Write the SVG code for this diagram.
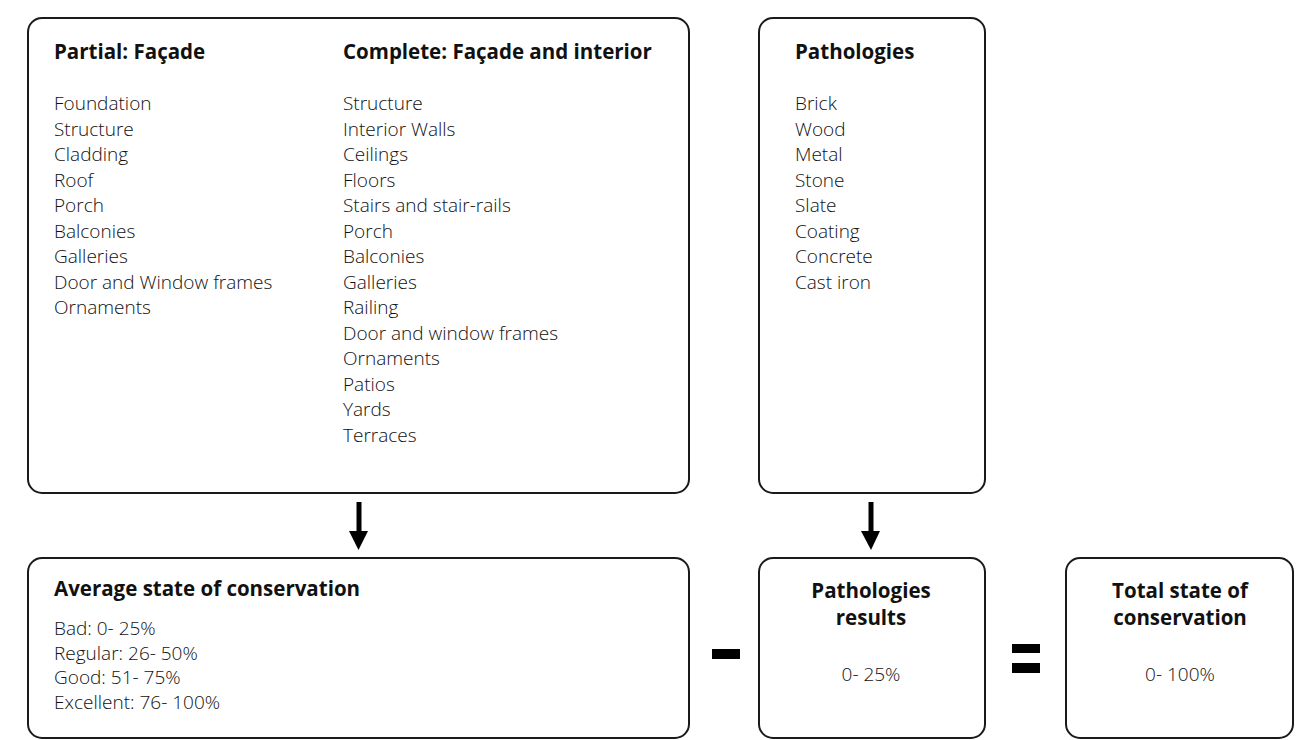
<svg xmlns="http://www.w3.org/2000/svg" width="1315" height="740" viewBox="0 0 1315 740">
<style>
.box{fill:#fff;stroke:#1a1a1a;stroke-width:2}
.h{font-family:"Open Sans","Liberation Sans",sans-serif;font-weight:bold;font-size:20.5px;fill:#111}
.t{font-family:"Open Sans","Liberation Sans",sans-serif;font-weight:300;font-size:19px;fill:#111}
.c{text-anchor:middle}
</style>
<rect width="1315" height="740" fill="#fff"/>
<g id="n-inspection">
<rect class="box" x="28" y="18" width="661" height="475" rx="14"/>
<text class="h" x="54" y="59">Partial: Façade</text>
<text class="t" x="54" y="110"><tspan x="54" dy="0">Foundation</tspan><tspan x="54" dy="25.5">Structure</tspan><tspan x="54" dy="25.5">Cladding</tspan><tspan x="54" dy="25.5">Roof</tspan><tspan x="54" dy="25.5">Porch</tspan><tspan x="54" dy="25.5">Balconies</tspan><tspan x="54" dy="25.5">Galleries</tspan><tspan x="54" dy="25.5">Door and Window frames</tspan><tspan x="54" dy="25.5">Ornaments</tspan></text>
<text class="h" x="343" y="59">Complete: Façade and interior</text>
<text class="t" x="343" y="110"><tspan x="343" dy="0">Structure</tspan><tspan x="343" dy="25.5">Interior Walls</tspan><tspan x="343" dy="25.5">Ceilings</tspan><tspan x="343" dy="25.5">Floors</tspan><tspan x="343" dy="25.5">Stairs and stair-rails</tspan><tspan x="343" dy="25.5">Porch</tspan><tspan x="343" dy="25.5">Balconies</tspan><tspan x="343" dy="25.5">Galleries</tspan><tspan x="343" dy="25.5">Railing</tspan><tspan x="343" dy="25.5">Door and window frames</tspan><tspan x="343" dy="25.5">Ornaments</tspan><tspan x="343" dy="25.5">Patios</tspan><tspan x="343" dy="25.5">Yards</tspan><tspan x="343" dy="25.5">Terraces</tspan></text>
</g>
<g id="n-pathologies">
<rect class="box" x="759" y="18" width="226" height="475" rx="14"/>
<text class="h" x="795" y="59">Pathologies</text>
<text class="t" x="795" y="110"><tspan x="795" dy="0">Brick</tspan><tspan x="795" dy="25.5">Wood</tspan><tspan x="795" dy="25.5">Metal</tspan><tspan x="795" dy="25.5">Stone</tspan><tspan x="795" dy="25.5">Slate</tspan><tspan x="795" dy="25.5">Coating</tspan><tspan x="795" dy="25.5">Concrete</tspan><tspan x="795" dy="25.5">Cast iron</tspan></text>
</g>
<g id="n-average">
<rect class="box" x="28" y="558" width="661" height="180" rx="14"/>
<text class="h" x="54" y="596">Average state of conservation</text>
<text class="t" x="54" y="635"><tspan x="54" dy="0">Bad: 0- 25%</tspan><tspan x="54" dy="24.5">Regular: 26- 50%</tspan><tspan x="54" dy="24.5">Good: 51- 75%</tspan><tspan x="54" dy="24.5">Excellent: 76- 100%</tspan></text>
</g>
<g id="n-results">
<rect class="box" x="759" y="558" width="226" height="180" rx="14"/>
<text class="h c" x="871" y="598">Pathologies</text>
<text class="h c" x="871" y="625">results</text>
<text class="t c" x="871" y="681">0- 25%</text>
</g>
<g id="n-total">
<rect class="box" x="1066" y="558" width="227" height="180" rx="14"/>
<text class="h c" x="1180" y="598">Total state of</text>
<text class="h c" x="1180" y="625">conservation</text>
<text class="t c" x="1180" y="681">0- 100%</text>
</g>
<g id="connectors" fill="#000">
<rect x="356.5" y="502" width="5" height="32"/>
<polygon points="349,531 368,531 358.5,550"/>
<rect x="868.5" y="502" width="5" height="32"/>
<polygon points="861,531 880,531 871,550"/>
<rect x="712" y="649" width="28" height="10"/>
<rect x="1012" y="644" width="28" height="9"/>
<rect x="1012" y="663" width="28" height="10"/>
</g>
</svg>
